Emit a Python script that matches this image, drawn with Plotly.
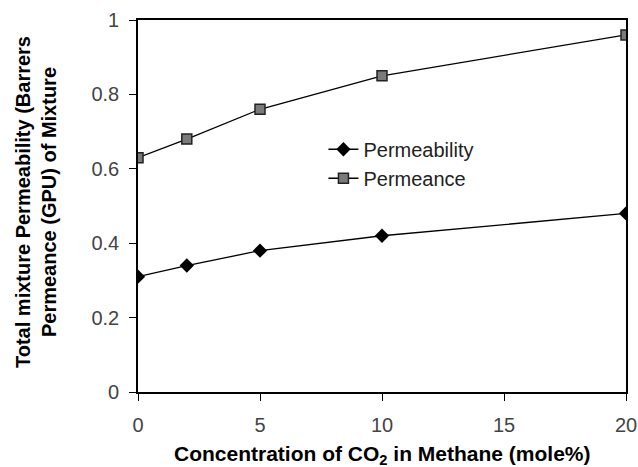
import plotly.graph_objects as go

co2 = [0, 2, 5, 10, 20]
permeability = [0.31, 0.34, 0.38, 0.42, 0.48]
permeance = [0.63, 0.68, 0.76, 0.85, 0.96]

x_title = "<b>Concentration of CO<sub>2</sub> in Methane (mole%)</b>"
y_title = "<b>Total mixture Permeability (Barrers<br>Permeance (GPU) of Mixture</b>"

fig = go.Figure()
fig.add_trace(go.Scatter(x=co2, y=permeability, mode="lines+markers", name="Permeability",
                         line=dict(color="black", width=1.3),
                         marker=dict(symbol="diamond", size=11, color="black")))
fig.add_trace(go.Scatter(x=co2, y=permeance, mode="lines+markers", name="Permeance",
                         line=dict(color="black", width=1.3),
                         marker=dict(symbol="square", size=10, color="#7a7a7a",
                                     line=dict(color="#222222", width=1.5))))

font = "Liberation Sans, Arial, sans-serif"
fig.update_layout(
    width=638, height=467,
    margin=dict(l=138, r=12, t=20, b=75, autoexpand=False),
    paper_bgcolor="white", plot_bgcolor="white",
    font=dict(family=font, color="black"),
    showlegend=True,
    legend=dict(x=0.38, y=0.705, xanchor="left", yanchor="top",
                bgcolor="rgba(0,0,0,0)", font=dict(size=20, color="#222222"),
                tracegroupgap=0),
    xaxis=dict(range=[0, 20], tickvals=[0, 5, 10, 15, 20], showgrid=False, zeroline=False,
               automargin=False, ticklabeloverflow="allow",
               showline=True, linecolor="black", linewidth=1.6, mirror=True,
               ticks="outside", ticklen=7, tickcolor="black", tickwidth=1.3,
               ticklabelstandoff=7,
               tickfont=dict(size=20, color="#444444")),
    yaxis=dict(range=[0, 1], tickvals=[0, 0.2, 0.4, 0.6, 0.8, 1],
               ticktext=["0", "0.2", "0.4", "0.6", "0.8", "1"],
               showgrid=False, zeroline=False, automargin=False, ticklabeloverflow="allow",
               showline=True, linecolor="black", linewidth=1.6, mirror=True,
               ticks="outside", ticklen=7, tickcolor="black", tickwidth=1.3,
               ticklabelstandoff=6,
               tickfont=dict(size=20, color="#444444")),
    annotations=[
        dict(text=x_title, xref="paper", yref="paper", x=0.5, y=0, xanchor="center",
             yanchor="middle", yshift=-63, showarrow=False,
             font=dict(size=21, color="black")),
        dict(text=y_title, xref="paper", yref="paper", x=0, y=0.5, xanchor="center",
             yanchor="middle", xshift=-102, yshift=4, textangle=-90, showarrow=False,
             font=dict(size=20, color="black")),
    ],
)
fig.write_html("out.html")
